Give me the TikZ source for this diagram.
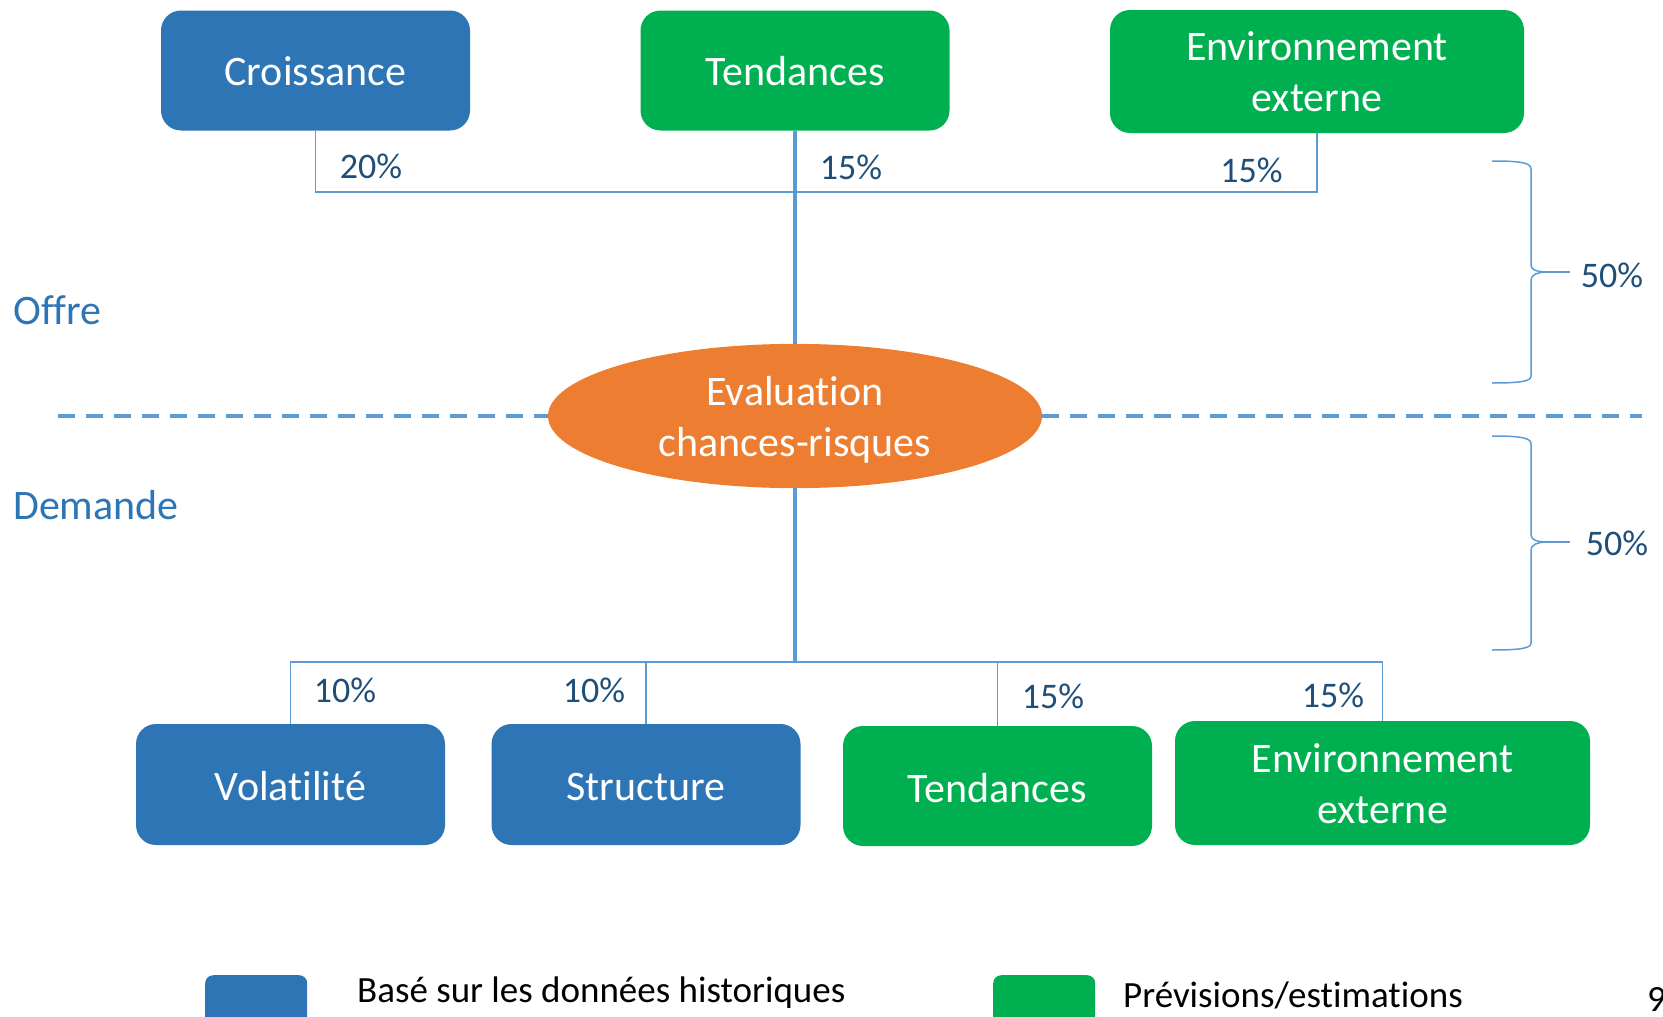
\documentclass[tikz,border=0pt]{standalone}
\usepackage{fontspec}
\setmainfont{Carlito}[Ligatures={NoCommon}]
\usetikzlibrary{shapes.geometric}
\definecolor{boxblue}{HTML}{2E75B6}
\definecolor{boxgreen}{HTML}{00B050}
\definecolor{evalorange}{HTML}{ED7D31}
\definecolor{linkblue}{HTML}{5B9BD5}
\definecolor{pctblue}{HTML}{1F4E79}
\definecolor{sidelabel}{HTML}{2E75B6}
\newcommand\nolig{\kern0pt }
\newcommand\lowerby[2]{\raisebox{#1}[\height][\depth]{#2}}
\newcommand\twolines[3]{\raisebox{#1}[\height][\depth]{\begin{tabular}{@{}c@{}}#2\\#3\end{tabular}}}
\begin{document}
\begin{tikzpicture}[x=1pt,y=-1pt,
  catbox/.style={rounded corners=20pt, minimum width=309pt, minimum height=120pt, inner sep=0pt, text=white, font=\fontsize{42}{51}\selectfont, align=center},
  histbox/.style={catbox, fill=boxblue},
  prevbox/.style={catbox, fill=boxgreen},
  thinlink/.style={draw=linkblue, line width=1.5pt},
  thicklink/.style={draw=linkblue, line width=4pt},
  divider/.style={draw=linkblue, line width=4.5pt, dash pattern=on 17pt off 11pt},
  pct/.style={text=pctblue, font=\fontsize{36}{43}\selectfont, inner sep=0pt},
  side/.style={text=sidelabel, font=\fontsize{42}{51}\selectfont, inner sep=0pt, anchor=west},
  bracepath/.style={draw=linkblue, line width=1.5pt},
  legbox/.style={rounded corners=8pt, minimum width=102pt, minimum height=70pt, anchor=north west, inner sep=0pt},
  legtext/.style={font=\fontsize{37}{45}\selectfont, inner sep=0pt, anchor=base west}
]
\useasboundingbox (0,0) rectangle (1663,1017);
\clip (0,0) rectangle (1663,1017);

% top boxes
\node[histbox] (croiss) at (315.5,70.5) {\lowerby{-0.5pt}{Croissance}};
\node[prevbox] (tendT) at (795,70.5) {\lowerby{-0.5pt}{Tendances}};
\node[prevbox, minimum width=414pt, minimum height=123pt] (envT) at (1317,71.5) {\twolines{-4.5pt}{Environnement}{externe}};

% central ellipse
\node[ellipse, fill=evalorange, minimum width=494pt, minimum height=142pt, inner sep=0pt, text=white, font=\fontsize{42}{51}\selectfont, align=center] (eval) at (795,416) {\twolines{-4.5pt}{Evaluat\nolig ion}{chances-risques}};

% bottom boxes
\node[histbox, minimum height=121pt] (vol) at (290.5,784.5) {\lowerby{-2pt}{Volat\nolig ilité}};
\node[histbox, minimum height=121pt] (struc) at (646,784.5) {\lowerby{-3pt}{Structure}};
\node[prevbox] (tendB) at (997.5,786) {\lowerby{-2pt}{Tendances}};
\node[prevbox, minimum width=415pt, minimum height=124pt] (envB) at (1382.5,783) {\twolines{-5pt}{Environnement}{externe}};

% connectors
\coordinate (jtop) at (795,192);
\coordinate (jbot) at (795,662);
\draw[thinlink] (croiss.south) |- (jtop) -| (envT.south);
\draw[thicklink] (tendT.south) -- (eval.north);
\draw[thicklink] (eval.south) -- (jbot);
\draw[thinlink] (vol.north) |- (jbot) -| (envB.north);
\draw[thinlink] (struc.north) -- (struc.north |- jbot);
\draw[thinlink] (tendB.north) -- (tendB.north |- jbot);

% divider
\coordinate (dl) at (58,416);
\coordinate (dr) at (1642,416);
\draw[divider] (dl) -- (eval.west);
\draw[divider] (eval.east) -- (dr);

% percentages
\node[pct] (p20) at (371,166.5) {20\%};
\node[pct] (p15a) at (851,167.5) {15\%};
\node[pct] (p15b) at (1251.5,170) {15\%};
\node[pct] (p10a) at (345,690) {10\%};
\node[pct] (p10b) at (594,690) {10\%};
\node[pct] (p15c) at (1053,696) {15\%};
\node[pct] (p15d) at (1333,695) {15\%};

% side labels
\node[side] (offre) at (13,310) {Offre};
\node[side] (demande) at (13,505) {Demande};

% braces
\draw[bracepath] (1492,161) .. controls (1522,161) and (1531,163) .. (1531,169) -- (1531,265) .. controls (1531,270) and (1537,272) .. (1548,272) .. controls (1537,272) and (1531,275) .. (1531,280) -- (1531,376) .. controls (1531,381) and (1522,383) .. (1492,383);
\draw[bracepath] (1548,272) -- (1570,272);
\node[pct] (b50a) at (1612,275) {50\%};
\draw[bracepath] (1492,436) .. controls (1522,436) and (1531,438) .. (1531,444) -- (1531,535) .. controls (1531,540) and (1537,542) .. (1548,542) .. controls (1537,542) and (1531,545) .. (1531,550) -- (1531,643) .. controls (1531,648) and (1522,650) .. (1492,650);
\draw[bracepath] (1548,542) -- (1570,542);
\node[pct] (b50b) at (1617,543) {50\%};

% legend
\node[legbox, fill=boxblue] (legH) at (205,975) {};
\node[legtext] (legHt) at (357,1002) {Basé sur les données historiques};
\node[legbox, fill=boxgreen] (legP) at (993,975) {};
\node[legtext] (legPt) at (1123,1007) {Prévisions/estimat\nolig ions};
\node[legtext] (pg) at (1647,1011) {9};
\end{tikzpicture}
\end{document}
